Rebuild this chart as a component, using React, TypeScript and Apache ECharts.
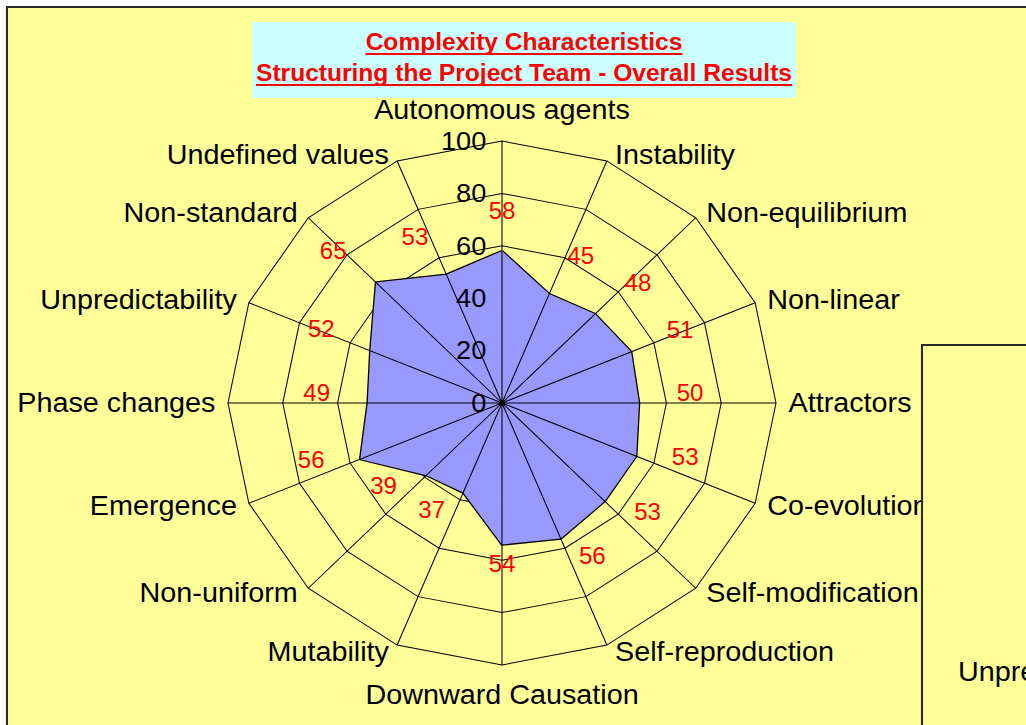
import React, { useEffect, useRef } from 'react';
import * as echarts from 'echarts';

// ---- data (clockwise from the top) ----
const categories = [
  'Autonomous agents', 'Instability', 'Non-equilibrium', 'Non-linear', 'Attractors',
  'Co-evolution', 'Self-modification', 'Self-reproduction', 'Downward Causation',
  'Mutability', 'Non-uniform', 'Emergence', 'Phase changes', 'Unpredictability',
  'Non-standard', 'Undefined values',
];
const values = [58, 45, 48, 51, 50, 53, 53, 56, 54, 37, 39, 56, 49, 52, 65, 53];
const scaleTicks = [0, 20, 40, 60, 80, 100];
const titleLines = ['Complexity Characteristics', 'Structuring the Project Team - Overall Results'];
const sidePanelLabel = 'Unpredictability';

const FONT = '"Liberation Sans", Arial, Helvetica, sans-serif';
// the original plot is slightly wider than tall: stretch horizontally
const SX = 1.0458;
const CX = 502;
const CY = 403;
const R = 262;

export default function App() {
  const ref = useRef<HTMLDivElement>(null);

  useEffect(() => {
    if (!ref.current) return;
    const chart = echarts.init(ref.current, undefined, { renderer: 'svg' });

    const n = categories.length;
    const maxV = scaleTicks[scaleTicks.length - 1];
    const step = scaleTicks[1] - scaleTicks[0];
    const ux = (x: number) => CX + (x - CX) / SX; // page x -> unscaled chart x

    // ECharts radar lays indicators out counter-clockwise: reorder
    const ecOrder = [0];
    for (let i = n - 1; i >= 1; i--) ecOrder.push(i);

    const measure = (txt: string, font: string) => {
      const c = document.createElement('canvas').getContext('2d')!;
      c.font = font;
      return c.measureText(txt).width;
    };
    const titleFont = `bold 23.5px ${FONT}`;
    const TCX = ux(524);
    const w1 = measure(titleLines[0], titleFont);
    const w2 = measure(titleLines[1], titleFont);

    const angleOf = (i: number) => (i * 360) / n;

    const valueLabelData = values.map((v, i) => {
      const th = (angleOf(i) * Math.PI) / 180;
      const s = Math.sin(th), c = Math.cos(th);
      return {
        value: [v, angleOf(i)],
        label: { offset: [(51 / SX) * Math.sign(s) * Math.sqrt(Math.abs(s)), -30 * c - 10] },
      };
    });

    const nameData = categories.map((name, i) => {
      const th = (angleOf(i) * Math.PI) / 180;
      const s = Math.sin(th), c = Math.cos(th);
      let label: any;
      if (Math.abs(s) < 0.01) {
        label = c > 0 ? { position: 'top', distance: 17 } : { position: 'bottom', distance: 15 };
      } else {
        label = {
          position: s > 0 ? 'right' : 'left',
          distance: (5 + 7 * Math.abs(s)) / SX,
          offset: [0, -7 * c],
        };
      }
      return { name, value: [maxV, angleOf(i)], label };
    });

    const hiddenItem = { color: 'rgba(0,0,0,0)', opacity: 1 };

    chart.setOption({
      animation: false,
      backgroundColor: '#ffffff',
      radar: {
        z: 1,
        center: [CX, CY],
        radius: R,
        startAngle: 90,
        shape: 'polygon',
        splitNumber: scaleTicks.length - 1,
        indicator: ecOrder.map((i) => ({ name: categories[i], min: 0, max: maxV })),
        axisName: { show: false },
        axisLine: { show: false },
        axisTick: { show: false },
        axisLabel: { show: false },
        splitLine: { lineStyle: { color: '#000', width: 1 } },
        splitArea: { show: false },
      },
      polar: { center: [CX, CY], radius: R },
      angleAxis: {
        type: 'value', min: 0, max: 360, interval: 360 / n, startAngle: 90, clockwise: true,
        z: 5,
        axisLine: { show: false }, axisTick: { show: false }, axisLabel: { show: false },
        splitLine: { show: true, lineStyle: { color: '#000', width: 1 } },
      },
      radiusAxis: { type: 'value', min: 0, max: maxV, show: false },
      grid: { left: CX, top: CY - R, width: 20, height: R },
      xAxis: { type: 'value', show: false },
      yAxis: {
        type: 'value', min: 0, max: maxV, interval: step, z: 10,
        axisLine: { show: false }, axisTick: { show: false }, splitLine: { show: false },
        axisLabel: { color: '#000', fontSize: 26, fontFamily: FONT, margin: 15 },
      },
      series: [
        {
          type: 'radar',
          z: 3,
          silent: true,
          symbol: 'none',
          lineStyle: { color: '#000', width: 2.5 },
          areaStyle: { color: '#9999FF', opacity: 1 },
          data: [{ value: ecOrder.map((i) => values[i]) }],
        },
        {
          type: 'scatter',
          coordinateSystem: 'polar',
          z: 12,
          silent: true,
          symbolSize: 1,
          itemStyle: hiddenItem,
          label: {
            show: true, position: 'inside', color: '#FF0000', opacity: 1, fontSize: 23, fontFamily: FONT,
            formatter: (p: any) => String(p.value[0]),
          },
          data: valueLabelData,
        },
        {
          type: 'scatter',
          coordinateSystem: 'polar',
          z: 12,
          silent: true,
          symbolSize: 1,
          itemStyle: hiddenItem,
          label: {
            show: true, color: '#000', opacity: 1, fontSize: 27.5, fontFamily: FONT,
            formatter: (p: any) => p.name,
          },
          data: nameData,
        },
      ],
      graphic: [
        {
          type: 'rect', z: 0, silent: true,
          shape: { x: ux(7), y: 7, width: 1200, height: 800 },
          style: { fill: '#FFFF99', stroke: '#2a2a2a', lineWidth: 2 },
        },
        {
          type: 'rect', z: 20, silent: true,
          shape: { x: ux(922), y: 345, width: 300, height: 500 },
          style: { fill: '#FFFF99', stroke: '#2a2a2a', lineWidth: 2 },
        },
        {
          type: 'text', z: 21, silent: true, x: ux(958), y: 672,
          style: { text: sidePanelLabel, fill: '#000', fontSize: 27.5, fontFamily: FONT, verticalAlign: 'middle' },
        },
        {
          type: 'rect', z: 20, silent: true,
          shape: { x: ux(252), y: 22, width: (796 - 252) / SX, height: 76 },
          style: { fill: '#CCFFFF' },
        },
        {
          type: 'text', z: 21, silent: true, x: TCX, y: 42,
          style: { text: titleLines[0], fill: '#FF0000', font: titleFont, align: 'center', verticalAlign: 'middle' },
        },
        {
          type: 'text', z: 21, silent: true, x: TCX, y: 73,
          style: { text: titleLines[1], fill: '#FF0000', font: titleFont, align: 'center', verticalAlign: 'middle' },
        },
        {
          type: 'line', z: 21, silent: true,
          shape: { x1: TCX - w1 / 2, y1: 54, x2: TCX + w1 / 2, y2: 54 },
          style: { stroke: '#FF0000', lineWidth: 2 },
        },
        {
          type: 'line', z: 21, silent: true,
          shape: { x1: TCX - w2 / 2, y1: 85, x2: TCX + w2 / 2, y2: 85 },
          style: { stroke: '#FF0000', lineWidth: 2 },
        },
      ],
    });

    return () => chart.dispose();
  }, []);

  return (
    <div style={{ position: 'fixed', left: 0, top: 0, width: 1026, height: 725, overflow: 'hidden', background: '#fff' }}>
      <div
        ref={ref}
        style={{ width: 1026, height: 725, transform: `scaleX(${SX})`, transformOrigin: `${CX}px 0px` }}
      />
    </div>
  );
}
